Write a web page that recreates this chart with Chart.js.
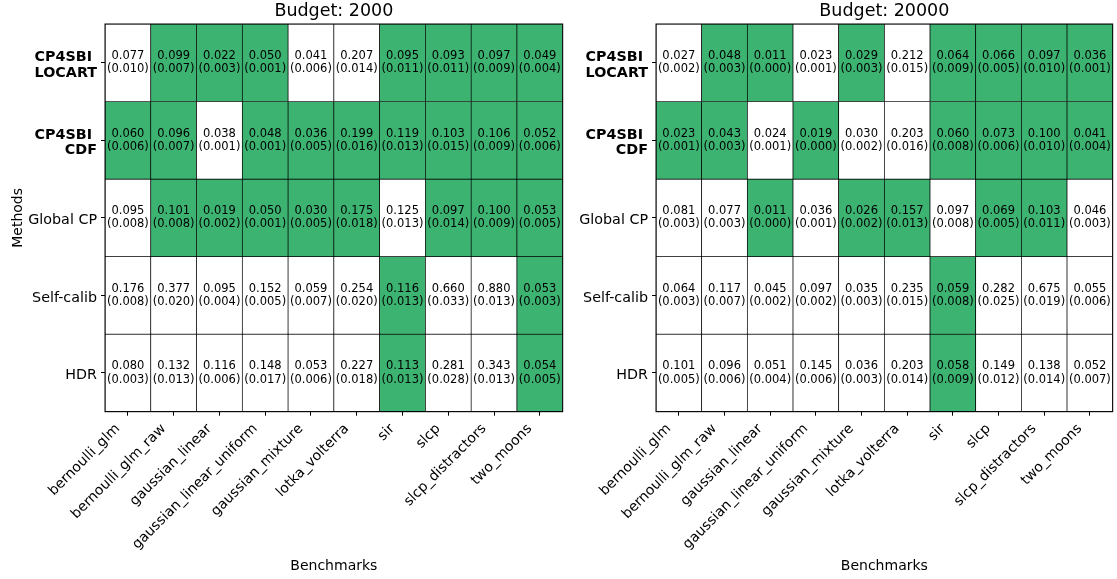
<!DOCTYPE html>
<html>
<head>
<meta charset="utf-8">
<title>Coverage heatmaps by budget</title>
<script src="https://cdn.jsdelivr.net/npm/chart.js@4/dist/chart.umd.min.js"></script>
<style>
  html, body { margin: 0; padding: 0; background: #fff; }
  #wrap { position: relative; width: 1117px; height: 579px; overflow: hidden; }
  canvas { position: absolute; top: 0; }
  #left { left: 0; }
  #right { left: 556px; }
</style>
</head>
<body>
<div id="wrap">
  <canvas id="left" width="565" height="579"></canvas>
  <canvas id="right" width="561" height="579"></canvas>
</div>
<script>
// Benchmarks (columns) and methods (rows)
const benchmarks = ['bernoulli_glm', 'bernoulli_glm_raw', 'gaussian_linear', 'gaussian_linear_uniform',
  'gaussian_mixture', 'lotka_volterra', 'sir', 'slcp', 'slcp_distractors', 'two_moons'];
const methods = ['CP4SBI LOCART', 'CP4SBI CDF', 'Global CP', 'Self-calib', 'HDR'];
const methodTickLabels = [['CP4SBI ', 'LOCART'], ['CP4SBI ', 'CDF'], 'Global CP', 'Self-calib', 'HDR'];
const budgets = ['Budget: 2000', 'Budget: 20000'];

// Budget 2000: mean, standard deviation, and whether the cell is highlighted
const mean2000 = [
  [0.077, 0.099, 0.022, 0.050, 0.041, 0.207, 0.095, 0.093, 0.097, 0.049],
  [0.060, 0.096, 0.038, 0.048, 0.036, 0.199, 0.119, 0.103, 0.106, 0.052],
  [0.095, 0.101, 0.019, 0.050, 0.030, 0.175, 0.125, 0.097, 0.100, 0.053],
  [0.176, 0.377, 0.095, 0.152, 0.059, 0.254, 0.116, 0.660, 0.880, 0.053],
  [0.080, 0.132, 0.116, 0.148, 0.053, 0.227, 0.113, 0.281, 0.343, 0.054]
];
const std2000 = [
  [0.010, 0.007, 0.003, 0.001, 0.006, 0.014, 0.011, 0.011, 0.009, 0.004],
  [0.006, 0.007, 0.001, 0.001, 0.005, 0.016, 0.013, 0.015, 0.009, 0.006],
  [0.008, 0.008, 0.002, 0.001, 0.005, 0.018, 0.013, 0.014, 0.009, 0.005],
  [0.008, 0.020, 0.004, 0.005, 0.007, 0.020, 0.013, 0.033, 0.013, 0.003],
  [0.003, 0.013, 0.006, 0.017, 0.006, 0.018, 0.013, 0.028, 0.013, 0.005]
];
const best2000 = [
  [0, 1, 1, 1, 0, 0, 1, 1, 1, 1],
  [1, 1, 0, 1, 1, 1, 1, 1, 1, 1],
  [0, 1, 1, 1, 1, 1, 0, 1, 1, 1],
  [0, 0, 0, 0, 0, 0, 1, 0, 0, 1],
  [0, 0, 0, 0, 0, 0, 1, 0, 0, 1]
];

// Budget 20000
const mean20000 = [
  [0.027, 0.048, 0.011, 0.023, 0.029, 0.212, 0.064, 0.066, 0.097, 0.036],
  [0.023, 0.043, 0.024, 0.019, 0.030, 0.203, 0.060, 0.073, 0.100, 0.041],
  [0.081, 0.077, 0.011, 0.036, 0.026, 0.157, 0.097, 0.069, 0.103, 0.046],
  [0.064, 0.117, 0.045, 0.097, 0.035, 0.235, 0.059, 0.282, 0.675, 0.055],
  [0.101, 0.096, 0.051, 0.145, 0.036, 0.203, 0.058, 0.149, 0.138, 0.052]
];
const std20000 = [
  [0.002, 0.003, 0.000, 0.001, 0.003, 0.015, 0.009, 0.005, 0.010, 0.001],
  [0.001, 0.003, 0.001, 0.000, 0.002, 0.016, 0.008, 0.006, 0.010, 0.004],
  [0.003, 0.003, 0.000, 0.001, 0.002, 0.013, 0.008, 0.005, 0.011, 0.003],
  [0.003, 0.007, 0.002, 0.002, 0.003, 0.015, 0.008, 0.025, 0.019, 0.006],
  [0.005, 0.006, 0.004, 0.006, 0.003, 0.014, 0.009, 0.012, 0.014, 0.007]
];
const best20000 = [
  [0, 1, 1, 0, 1, 0, 1, 1, 1, 1],
  [1, 1, 0, 1, 0, 0, 1, 1, 1, 1],
  [0, 0, 1, 0, 1, 1, 0, 1, 1, 0],
  [0, 0, 0, 0, 0, 0, 1, 0, 0, 0],
  [0, 0, 0, 0, 0, 0, 1, 0, 0, 0]
];

const FONT = 'DejaVu Sans';
const GREEN = '#3cb371';
Chart.defaults.color = '#000';
Chart.defaults.font.family = FONT;

function makeHeatmap(canvasId, title, means, stds, best, opts) {
  // Each method row is a floating bar spanning [row, row + 1] on a reversed linear axis
  const datasets = methods.map((m, r) => ({
    label: m,
    data: benchmarks.map(() => [r, r + 1]),
    backgroundColor: best[r].map(b => (b ? GREEN : '#ffffff')),
    borderColor: '#000',
    borderWidth: 0.7,
    borderSkipped: false,
    grouped: false,
    barPercentage: 1,
    categoryPercentage: 1
  }));

  // Writes "mean" over "(std)" in the middle of every cell
  const cellText = {
    id: 'cellText',
    afterDatasetsDraw(chart) {
      const ctx = chart.ctx;
      ctx.save();
      ctx.font = '11.5px "' + FONT + '"';
      ctx.fillStyle = '#000';
      ctx.textAlign = 'center';
      ctx.textBaseline = 'alphabetic';
      chart.data.datasets.forEach((ds, r) => {
        chart.getDatasetMeta(r).data.forEach((bar, c) => {
          const cy = (bar.y + bar.base) / 2;
          ctx.fillText(means[r][c].toFixed(3), bar.x, cy - 3.7);
          ctx.fillText('(' + stds[r][c].toFixed(3) + ')', bar.x, cy + 9.6);
        });
      });
      ctx.restore();
    }
  };

  // Outline of the plotting area
  const frame = {
    id: 'frame',
    afterDatasetsDraw(chart) {
      const a = chart.chartArea;
      const ctx = chart.ctx;
      ctx.save();
      ctx.strokeStyle = '#000';
      ctx.lineWidth = 1;
      ctx.strokeRect(a.left, a.top, a.right - a.left, a.bottom - a.top);
      ctx.restore();
    }
  };

  return new Chart(document.getElementById(canvasId), {
    type: 'bar',
    data: { labels: benchmarks, datasets },
    options: {
      responsive: false,
      animation: false,
      devicePixelRatio: 1,
      layout: { padding: { left: 0, right: opts.padRight, top: 0, bottom: 0 } },
      plugins: {
        legend: { display: false },
        tooltip: { enabled: false },
        title: {
          display: true,
          text: title,
          fullSize: false,
          color: '#000',
          font: { family: FONT, size: 17.5, weight: 'normal' },
          padding: { top: 1, bottom: 2 }
        }
      },
      scales: {
        x: {
          type: 'category',
          offset: true,
          grid: { display: true, offset: false, drawOnChartArea: false, drawTicks: true, tickLength: 4, color: '#000', lineWidth: 1 },
          border: { display: true, color: '#000', width: 1 },
          ticks: {
            autoSkip: false, minRotation: 45, maxRotation: 45,
            padding: 5, labelOffset: -10,
            color: '#000', font: { family: FONT, size: 14 }
          },
          title: {
            display: true, text: 'Benchmarks', color: '#000',
            font: { family: FONT, size: 14 }, padding: { top: 0, bottom: 4 }
          },
          afterFit(scale) { scale.height = 167.3; }
        },
        y: {
          type: 'linear',
          min: 0,
          max: methods.length,
          reverse: true,
          afterBuildTicks(scale) { scale.ticks = methods.map((m, i) => ({ value: i + 0.5 })); },
          grid: { display: true, drawOnChartArea: false, drawTicks: true, tickLength: 4, color: '#000', lineWidth: 1 },
          border: { display: true, color: '#000', width: 1 },
          ticks: {
            padding: 4,
            labelOffset: 2.5,
            color: '#000',
            callback: (v, i) => methodTickLabels[i],
            font: (ctx) => ({ family: FONT, size: 14.3, weight: ctx.index < 2 ? 'bold' : 'normal', lineHeight: 1.08 })
          },
          title: {
            display: opts.showYTitle, text: 'Methods', color: '#000',
            font: { family: FONT, size: 14 }, padding: { top: 10, bottom: 0 }
          },
          afterFit(scale) { scale.width = opts.yWidth; }
        }
      }
    },
    plugins: [cellText, frame]
  });
}

makeHeatmap('left', budgets[0], mean2000, std2000, best2000, { showYTitle: true, yWidth: 105, padRight: 2.3 });
makeHeatmap('right', budgets[1], mean20000, std20000, best20000, { showYTitle: false, yWidth: 100, padRight: 4.3 });
</script>
</body>
</html>
